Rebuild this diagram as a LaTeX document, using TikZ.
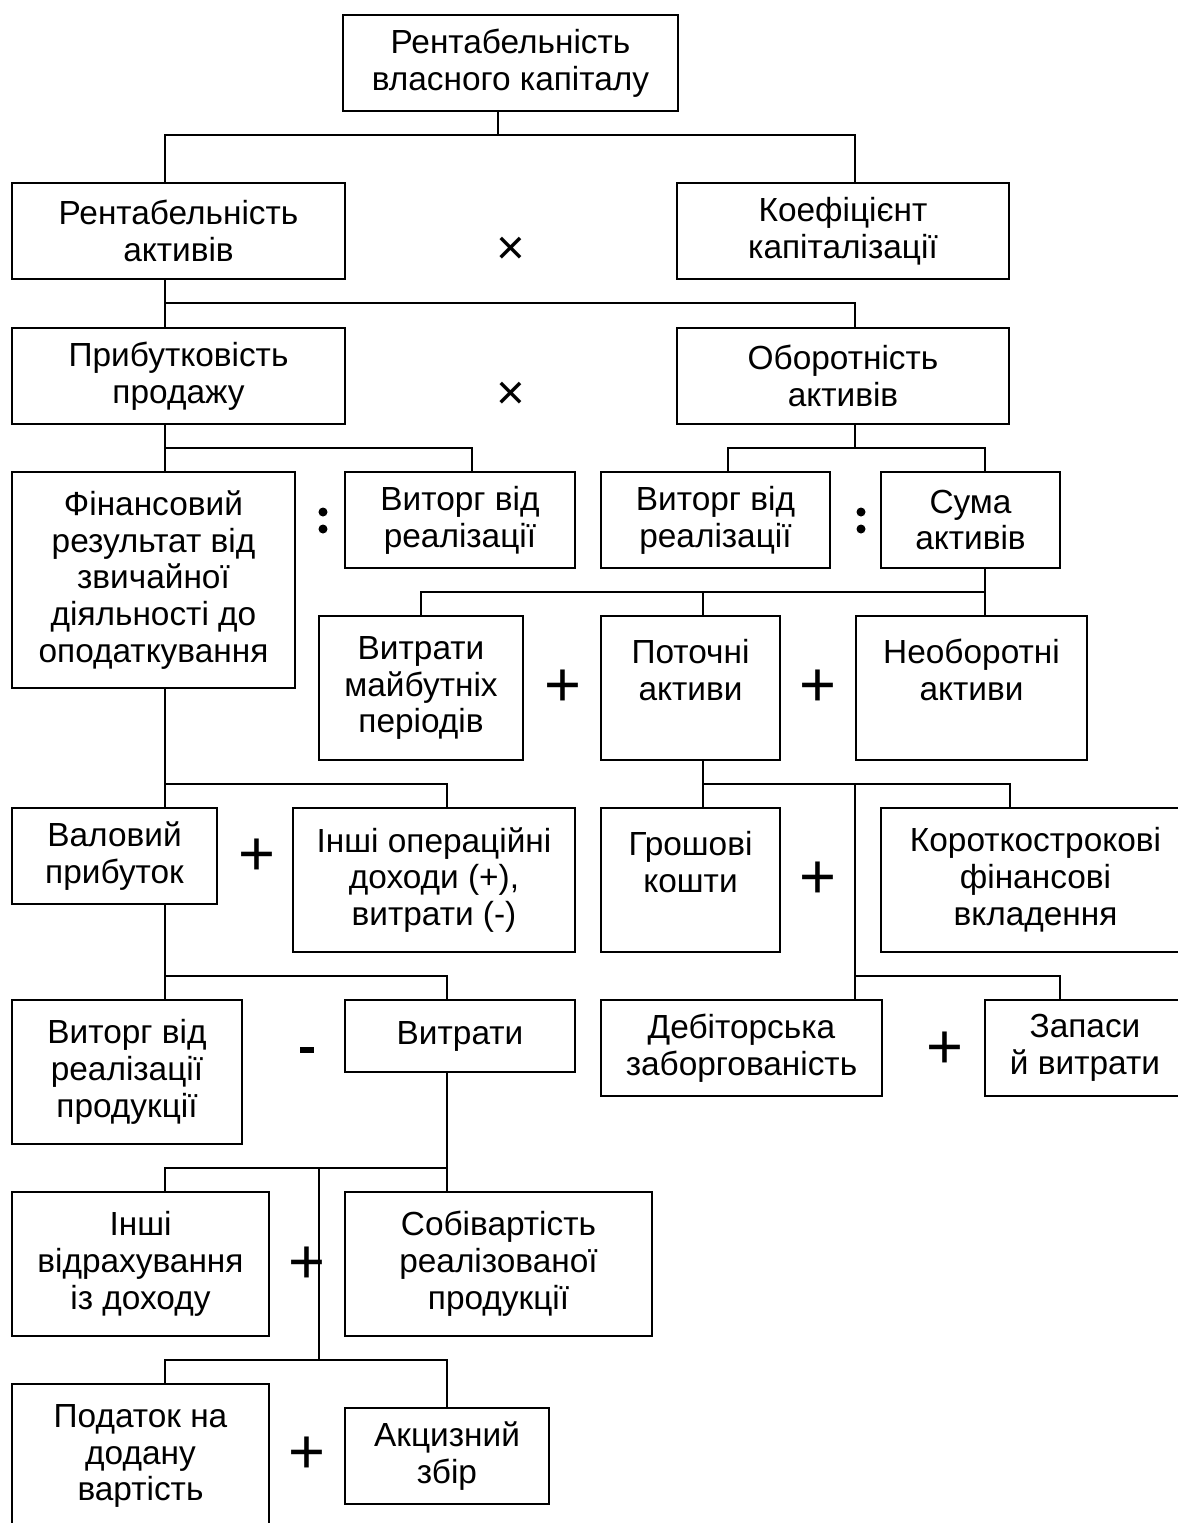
\documentclass[tikz,border=0pt]{standalone}
\usepackage{fontspec}
\setmainfont{Liberation Sans}

\tikzset{
	blok/.style={draw, line width=0.6pt, align=center, inner sep=1pt, font=\fontsize{9.5}{10.5}\selectfont},
	znak/.style={inner sep=0pt, font=\fontsize{18}{18}\selectfont},
	kropka/.style={circle, fill, inner sep=0pt, minimum size=0.09cm},
	minus/.style={fill, inner sep=0pt, minimum width=0.13cm, minimum height=0.055cm},
}

\begin{document}
\begin{tikzpicture}[x=0.01cm, y=-0.01cm, line width=0.6pt]
	\useasboundingbox (0,0) rectangle (1178,1523);
	\clip (0,0) rectangle (1178,1523);
	% boxes
	\node[blok, minimum width=3.35cm, minimum height=0.96cm] (rvk) at (510.5,63) {Рентабельність\\власного капіталу};
	\node[blok, minimum width=3.33cm, minimum height=0.96cm] (ra) at (178.5,231) {Рентабельність\\активів};
	\node[blok, minimum width=3.32cm, minimum height=0.96cm] (kk) at (843,231) {Коефіцієнт\\капіталізації};
	\node[blok, minimum width=3.33cm, minimum height=0.96cm] (pp) at (178.5,376) {Прибутковість\\продажу};
	\node[blok, minimum width=3.32cm, minimum height=0.96cm] (oa) at (843,376) {Оборотність\\активів};
	\node[blok, minimum width=2.83cm, minimum height=2.16cm] (fr) at (153.5,580) {Фінансовий\\результат від\\звичайної\\діяльності до\\оподаткування};
	\node[blok, minimum width=2.30cm, minimum height=0.96cm] (vr1) at (460,520) {Виторг від\\реалізації};
	\node[blok, minimum width=2.29cm, minimum height=0.96cm] (vr2) at (715.5,520) {Виторг від\\реалізації};
	\node[blok, minimum width=1.79cm, minimum height=0.96cm] (sa) at (970.5,520) {Сума\\активів};
	\node[blok, minimum width=2.04cm, minimum height=1.44cm] (vmp) at (421,688) {Витрати\\майбутніх\\періодів};
	\node[blok, minimum width=1.79cm, minimum height=1.44cm] (pa) at (690.5,688) {Поточні\\активи\\\mbox{}};
	\node[blok, minimum width=2.31cm, minimum height=1.44cm] (na) at (971.5,688) {Необоротні\\активи\\\mbox{}};
	\node[blok, minimum width=2.05cm, minimum height=0.96cm] (vp) at (114.5,856) {Валовий\\прибуток};
	\node[blok, minimum width=2.82cm, minimum height=1.44cm] (iod) at (434,880) {Інші операційні\\доходи (+),\\витрати (-)};
	\node[blok, minimum width=1.79cm, minimum height=1.44cm] (gk) at (690.5,880) {Грошові\\кошти\\\mbox{}};
	\node[blok, minimum width=3.09cm, minimum height=1.44cm] (kfv) at (1035.5,880) {Короткострокові\\фінансові\\вкладення};
	\node[blok, minimum width=2.30cm, minimum height=1.44cm] (vrp) at (127,1072) {Виторг від\\реалізації\\продукції};
	\node[blok, minimum width=2.30cm, minimum height=0.72cm] (vyt) at (460,1036) {Витрати};
	\node[blok, minimum width=2.81cm, minimum height=0.96cm] (dz) at (741.5,1048) {Дебіторська\\заборгованість};
	\node[blok, minimum width=2.00cm, minimum height=0.96cm] (zv) at (1085,1048) {Запаси\\й витрати};
	\node[blok, minimum width=2.57cm, minimum height=1.44cm] (ivd) at (140.5,1264) {Інші\\відрахування\\із доходу};
	\node[blok, minimum width=3.07cm, minimum height=1.44cm] (srp) at (498.5,1264) {Собівартість\\реалізованої\\продукції};
	\node[blok, minimum width=2.57cm, minimum height=1.44cm] (pdv) at (140.5,1456) {Податок на\\додану\\вартість};
	\node[blok, minimum width=2.04cm, minimum height=0.96cm] (az) at (447,1456) {Акцизний\\збір};
	% connectors
	\draw (rvk.south -| 498,0) -- (498,135) -| (ra.north -| 165,0);
	\draw (498,135) -| (kk.north -| 855,0);
	\draw (ra.south -| 165,0) -- (pp.north -| 165,0);
	\draw (165,303) -| (oa.north -| 855,0);
	\draw (pp.south -| 165,0) -- (fr.north -| 165,0);
	\draw (165,448) -| (vr1.north -| 472,0);
	\draw (oa.south -| 855,0) -- (855,448);
	\draw (vr2.north -| 728,0) |- (855,448) -| (sa.north -| 985,0);
	\draw (sa.south -| 985,0) -- (na.north -| 985,0);
	\draw (vmp.north -| 421,0) |- (985,592);
	\draw (703,592) -- (pa.north -| 703,0);
	\draw (pa.south -| 703,0) -- (gk.north -| 703,0);
	\draw (703,784) -| (kfv.north -| 1010,0);
	\draw (855,784) -- (dz.north -| 855,0);
	\draw (855,976) -| (zv.north -| 1060,0);
	\draw (fr.south -| 165,0) -- (vp.north -| 165,0);
	\draw (165,784) -| (iod.north -| 447,0);
	\draw (vp.south -| 165,0) -- (vrp.north -| 165,0);
	\draw (165,976) -| (vyt.north -| 447,0);
	\draw (vyt.south -| 447,0) -- (srp.north -| 447,0);
	\draw (ivd.north -| 165,0) |- (447,1168);
	\draw (319,1168) -- (319,1360);
	\draw (pdv.north -| 165,0) |- (447,1360) -- (az.north -| 447,0);
	% signs
	\node[znak, font=\fontsize{14}{14}\selectfont] (x1) at (511,251) {×};
	\node[znak, font=\fontsize{14}{14}\selectfont] (x2) at (511,396) {×};
	\node[kropka] (d1a) at (323,512) {};
	\node[kropka] (d1b) at (323,529) {};
	\node[kropka] (d2a) at (861,512) {};
	\node[kropka] (d2b) at (861,529) {};
	\node[znak] (p1) at (563,688) {+};
	\node[znak] (p2) at (818,688) {+};
	\node[znak] (p3) at (257,857) {+};
	\node[znak] (p4) at (818,880) {+};
	\node[znak] (p5) at (945,1050) {+};
	\node[znak] (p6) at (307,1265) {+};
	\node[znak] (p7) at (307,1455) {+};
	\node[minus] (m1) at (307,1050) {};
\end{tikzpicture}
\end{document}
